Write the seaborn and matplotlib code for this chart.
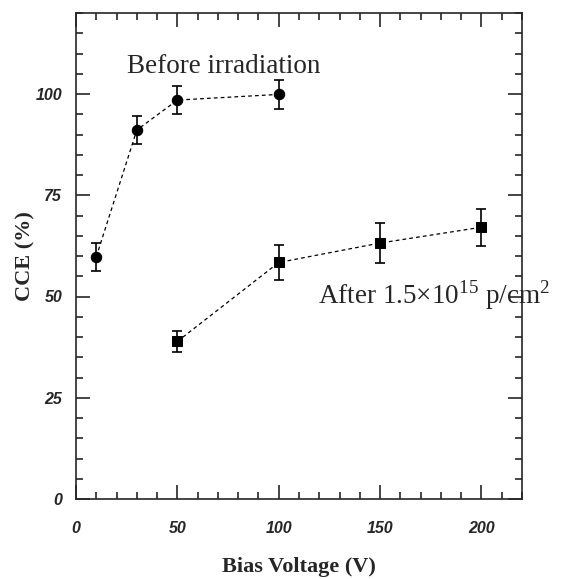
import matplotlib
matplotlib.use("Agg")
import matplotlib.pyplot as plt
from matplotlib.ticker import MultipleLocator
import pandas as pd
import seaborn as sns

# Charge collection efficiency vs bias voltage
before_v = [10, 30, 50, 100]
before_cce = [59.8, 91.1, 98.5, 99.9]
before_err = [3.4, 3.4, 3.5, 3.6]

after_v = [50, 100, 150, 200]
after_cce = [38.9, 58.4, 63.2, 67.1]
after_err = [2.5, 4.3, 4.9, 4.6]

sns.set_style("ticks")
plt.rcParams['font.family'] = ['Liberation Sans', 'DejaVu Sans']
plt.rcParams['mathtext.fontset'] = 'custom'
plt.rcParams['mathtext.rm'] = 'Liberation Serif'

before_df = pd.DataFrame({"v": before_v, "cce": before_cce})
after_df = pd.DataFrame({"v": after_v, "cce": after_cce})

fig = plt.figure(figsize=(5.65, 5.79), dpi=100)
ax = fig.add_axes([76 / 565, 80 / 579, 446 / 565, 486 / 579])

sns.lineplot(data=before_df, x="v", y="cce", ax=ax, color="black",
             linestyle=(0, (3, 2.5)), linewidth=0.9, marker="o", markersize=7.5,
             markeredgecolor="black")
sns.lineplot(data=after_df, x="v", y="cce", ax=ax, color="black",
             linestyle=(0, (3, 2.5)), linewidth=0.9, marker="s", markersize=7,
             markeredgecolor="black")
ax.errorbar(before_v, before_cce, yerr=before_err, fmt="none", ecolor="black",
            elinewidth=1.2, capsize=3.5, capthick=1.2)
ax.errorbar(after_v, after_cce, yerr=after_err, fmt="none", ecolor="black",
            elinewidth=1.2, capsize=3.5, capthick=1.2)

ax.set_xlim(0, 220)
ax.set_ylim(0, 120)
ax.xaxis.set_major_locator(MultipleLocator(50))
ax.xaxis.set_minor_locator(MultipleLocator(10))
ax.yaxis.set_major_locator(MultipleLocator(25))
ax.yaxis.set_minor_locator(MultipleLocator(5))
ax.tick_params(which="both", direction="in", top=True, right=True, width=1.2)
ax.tick_params(which="major", length=10)
ax.tick_params(which="minor", length=5)
ax.tick_params(axis="y", pad=10)
ax.tick_params(axis="x", pad=16)
for spine in ax.spines.values():
    spine.set_linewidth(1.2)
for lab in ax.get_xticklabels() + ax.get_yticklabels():
    lab.set_fontsize(11.5)
    lab.set_fontweight("bold")
    lab.set_fontstyle("italic")

ax.set_xlabel("Bias Voltage (V)", fontsize=16, fontweight="bold",
              family="Liberation Serif", labelpad=15)
ax.set_ylabel("CCE (%)", fontsize=16, fontweight="bold",
              family="Liberation Serif", labelpad=0)

ax.text(25, 106.9, "Before irradiation", fontsize=19.5, family="Liberation Serif",
        va="center", ha="left")
ax.text(119.4, 50.4, r"After 1.5$\times$10$^{15}$ p/cm$^2$", fontsize=19.5,
        family="Liberation Serif", va="center", ha="left")

fig.savefig("out.png", dpi=100)
